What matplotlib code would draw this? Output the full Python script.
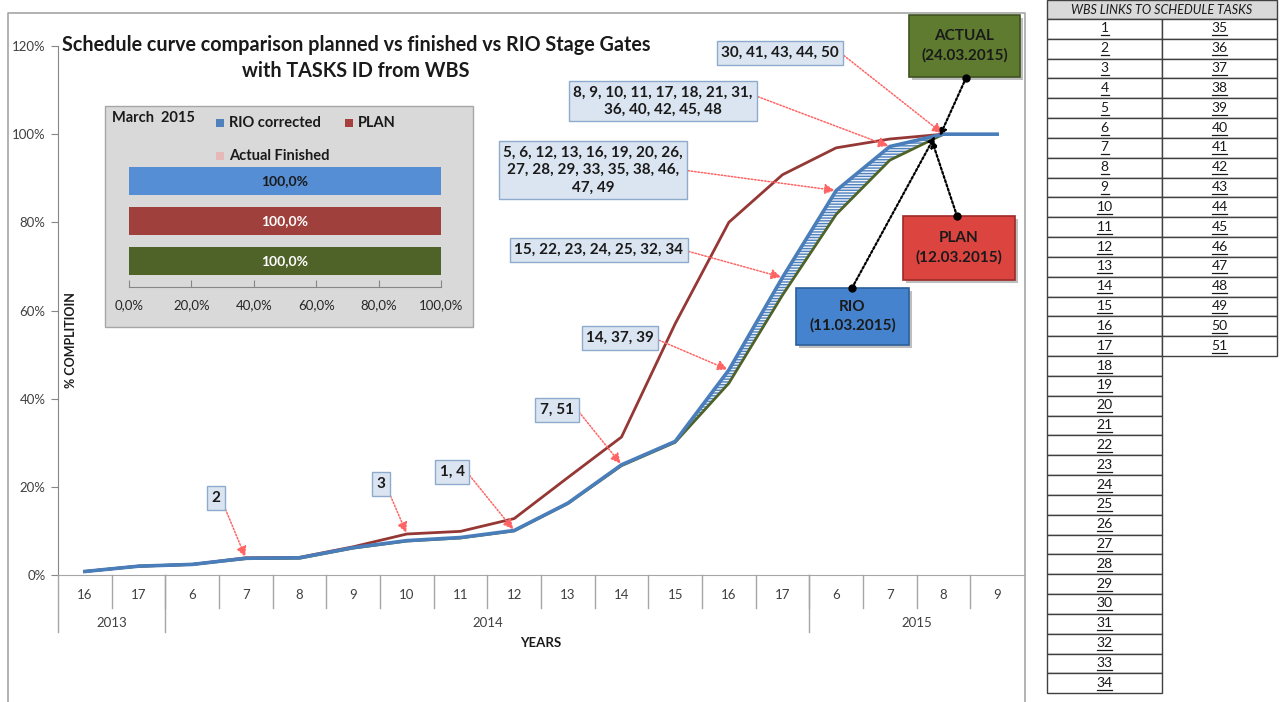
import numpy as np
import matplotlib
matplotlib.use('Agg')
import matplotlib.pyplot as plt
import matplotlib.transforms as mtransforms
from matplotlib.patches import Rectangle

plt.rcParams['font.family'] = ['Lato', 'DejaVu Sans']

# ---- data ----
week_labels = ['16', '17', '6', '7', '8', '9', '10', '11', '12', '13', '14', '15',
               '16', '17', '6', '7', '8', '9']
year_labels = ['2013', '2014', '2015']
year_first = [0, 2, 14]
year_last = [1, 13, 17]

rio_corrected = [0.8, 2.0, 2.4, 3.8, 3.9, 6.2, 7.8, 8.5, 10.1, 16.3, 25.0, 30.3,
                 46.5, 67.5, 87.2, 97.2, 100.0, 100.0]
plan = [0.8, 2.0, 2.4, 3.9, 4.0, 6.4, 9.3, 9.9, 12.8, 22.1, 31.3, 57.0,
        80.0, 90.8, 96.9, 98.9, 100.0]
actual = [0.8, 2.0, 2.4, 3.7, 3.8, 6.1, 7.7, 8.4, 10.0, 16.2, 24.8, 30.1,
          43.5, 63.5, 81.8, 94.1, 100.0]

task_groups = ['2', '3', '1, 4', '7, 51', '14, 37, 39',
               '15, 22, 23, 24, 25, 32, 34',
               '5, 6, 12, 13, 16, 19, 20, 26,\n27, 28, 29, 33, 35, 38, 46,\n47, 49',
               '8, 9, 10, 11, 17, 18, 21, 31,\n36, 40, 42, 45, 48',
               '30, 41, 43, 44, 50']
task_week = [3, 6, 8, 10, 12, 13, 14, 15, 16]
task_series = ['rio', 'plan', 'rio', 'rio', 'rio', 'rio', 'rio', 'rio', 'rio']

milestones = ['ACTUAL\n(24.03.2015)', 'PLAN\n(12.03.2015)', 'RIO\n(11.03.2015)']
milestone_week = [15.93, 15.78, 15.84]

march_names = ['RIO corrected', 'PLAN', 'Actual Finished']
march_values = [100.0, 100.0, 100.0]

wbs_left = list(range(1, 35))
wbs_right = list(range(35, 52))

series = {'rio': rio_corrected, 'plan': plan, 'actual': actual}

# ---- layout (pixels) ----
W, H = 1282, 702


def fx(x):
    return x / W


def fy(y):
    return 1 - y / H


fig = plt.figure(figsize=(W / 100, H / 100), dpi=100)

# overlay in pixel coords for frame, boxes, table
ov = fig.add_axes([0, 0, 1, 1])
ov.set_xlim(0, W)
ov.set_ylim(H, 0)
ov.axis('off')
ov.set_zorder(5)
ov.patch.set_visible(False)

# main chart
ax = fig.add_axes([fx(58), fy(575), 966 / W, 529 / H])
ax.patch.set_visible(False)
x = np.arange(len(week_labels))
ax.plot(x[:len(plan)], plan, color='#953735', lw=2, zorder=3, solid_joinstyle='round')
ax.fill_between(x[11:17], actual[11:17], rio_corrected[11:17], facecolor='#eef3fa',
                edgecolor='#4f81bd', hatch='------', lw=0, zorder=2)
ax.plot(x[:len(actual)], actual, color='#4f6228', lw=2, zorder=4, solid_joinstyle='round')
ax.plot(x, rio_corrected, color='#4a7ebb', lw=2.6, zorder=5, solid_joinstyle='round')
ax.set_xlim(-0.5, len(week_labels) - 0.5)
ax.set_ylim(0, 120)
ax.set_yticks(np.arange(0, 121, 20))
ax.set_yticklabels([f'{v}%' for v in range(0, 121, 20)])
ax.tick_params(axis='y', length=5, color='#868686', labelcolor='#404040', labelsize=9.5, pad=4)
ax.set_xticks([])
for s in ['top', 'right']:
    ax.spines[s].set_visible(False)
ax.spines['left'].set_color('#868686')
ax.spines['bottom'].set_color('#a6a6a6')

# two-level category axis (week / year)
trans = mtransforms.blended_transform_factory(ax.transData, ax.transAxes)
for i, lab in enumerate(week_labels):
    ax.text(i, -20 / 529, lab, transform=trans, ha='center', va='center',
            fontsize=9.5, color='#404040')
for i in range(len(week_labels) - 1):
    ax.plot([i + 0.5, i + 0.5], [0, -33 / 529], transform=trans, color='#a6a6a6',
            lw=1, clip_on=False)
for lab, a, b in zip(year_labels, year_first, year_last):
    ax.text((a + b) / 2, -48 / 529, lab, transform=trans, ha='center', va='center',
            fontsize=9.5, color='#404040')
    ax.plot([a - 0.5, a - 0.5], [0, -57 / 529], transform=trans, color='#a6a6a6',
            lw=1, clip_on=False)

# chart frame
ov.plot([8, 8, 1025, 1025], [702, 13, 13, 702], color='#a6a6a6', lw=1.2)

ov.text(356, 45, 'Schedule curve comparison planned vs finished vs RIO Stage Gates',
        ha='center', va='center', fontsize=14.2, fontweight='bold', color='#1a1a1a')
ov.text(356, 71, 'with TASKS ID from WBS', ha='center', va='center', fontsize=14.2,
        fontweight='bold', color='#1a1a1a')
ov.text(71, 340, '% COMPLITIOIN', rotation=90, ha='center', va='center', fontsize=9,
        fontweight='bold', color='#1a1a1a')
ov.text(541, 643, 'YEARS', ha='center', va='center', fontsize=9.5, fontweight='bold',
        color='#1a1a1a')

# task annotations
task_pos = [(216, 498), (381, 484), (452, 472), (557, 410), (620, 338), (599, 250),
            (593, 170), (663, 101), (780, 53)]
task_rel = [(1, 0.55), (1, 0.5), (1, 0.7), (1, 0.8), (1, 0.5), (1, 0.5), (1, 0.5),
            (1, 0.7), (1, 0.6)]
for lab, pos, wk, ser, rel in zip(task_groups, task_pos, task_week, task_series, task_rel):
    ov.annotate(lab, xy=(wk, series[ser][wk]), xycoords=ax.transData, xytext=pos,
                textcoords='data', ha='center', va='center', fontsize=11,
                fontweight='bold', color='#1a1a1a', linespacing=1.3,
                bbox=dict(boxstyle='square,pad=0.3', fc='#dbe5f1', ec='#8eaacc', lw=1),
                arrowprops=dict(arrowstyle='-|>', color='#ff6464', lw=1.1,
                                linestyle=(0, (1, 1.2)), mutation_scale=15,
                                shrinkA=0, shrinkB=1, relpos=rel))

# milestone boxes
ms_rect = [(909, 15, 111, 62), (903, 216, 112, 64), (796, 288, 113, 57)]
ms_fc = ['#5e7b2f', '#dc4440', '#4683cf']
ms_ec = ['#3e5220', '#9c2a27', '#2d5f9a']
ms_dot = [(966, 78), (957, 216), (852, 288)]
ms_series = ['actual', 'actual', 'rio']
for lab, (rx, ry, rw, rh), fc, ec, dot, wk, ser in zip(milestones, ms_rect, ms_fc, ms_ec,
                                                       ms_dot, milestone_week, ms_series):
    ov.add_patch(Rectangle((rx + 3, ry + 3), rw, rh, fc='#7f7f7f', ec='none', alpha=0.5,
                           zorder=2))
    ov.add_patch(Rectangle((rx, ry), rw, rh, fc=fc, ec=ec, lw=1.2, zorder=3))
    ov.text(rx + rw / 2, ry + rh / 2, lab, ha='center', va='center', fontsize=11,
            fontweight='bold', color='#1a1a1a', linespacing=1.4, zorder=4)
    yv = np.interp(wk, x[:len(series[ser])], series[ser])
    ov.annotate('', xy=(wk, yv), xycoords=ax.transData, xytext=dot, textcoords='data',
                arrowprops=dict(arrowstyle='-|>', color='black', lw=1.6,
                                linestyle=(0, (1, 1)), mutation_scale=10,
                                shrinkA=0, shrinkB=0), zorder=5)
    ov.plot(*dot, 'o', color='black', ms=5, zorder=6)

# inset with March 2015 bars
ov.add_patch(Rectangle((105, 106), 368, 221, fc='#d9d9d9', ec='#a6a6a6', lw=1, zorder=1))
ov.text(112, 118, 'March  2015', ha='left', va='center', fontsize=10.5, fontweight='bold',
        color='#1a1a1a', zorder=2)
leg_fc = ['#4f81bd', '#a5403e', '#e6b9b8']
leg_pos = [(216, 123), (345, 123), (216, 156)]
for name, fc, (lx, ly) in zip(march_names, leg_fc, leg_pos):
    ov.add_patch(Rectangle((lx, ly - 4), 8, 8, fc=fc, ec='none', zorder=2))
    ov.text(lx + 13, ly, name, ha='left', va='center', fontsize=10.5, fontweight='bold',
            color='#1a1a1a', zorder=2)

ins = fig.add_axes([fx(129), fy(287), 312 / W, 127 / H])
ins.set_zorder(6)
ins.patch.set_visible(False)
bar_fc = ['#558ed5', '#a0403c', '#4f6228']
bar_tc = ['#1a1a1a', 'white', 'white']
ypos = np.arange(len(march_values))[::-1]
ins.barh(ypos, march_values, height=0.7, color=bar_fc)
for yy, v, tc in zip(ypos, march_values, bar_tc):
    ins.text(v / 2, yy, f'{v:.1f}%'.replace('.', ','), ha='center', va='center',
             fontsize=10, fontweight='bold', color=tc)
ins.set_xlim(0, 100)
ins.set_ylim(-0.65, 2.525)
ins.set_xticks(np.arange(0, 101, 20))
ins.set_xticklabels([f'{v:.1f}%'.replace('.', ',') for v in range(0, 101, 20)])
ins.tick_params(axis='x', direction='in', length=5, color='#868686', labelcolor='#262626',
                labelsize=9.5, pad=9)
ins.set_yticks([])
for s in ['top', 'right', 'left']:
    ins.spines[s].set_visible(False)
ins.spines['bottom'].set_color('#868686')

# WBS table
tx0, tx1, tx2 = 1047, 1162, 1277
row_h = 19.83
top = 19
ov.add_patch(Rectangle((tx0, 0), tx2 - tx0, top, fc='#d9d9d9', ec='#404040', lw=1, zorder=2))
ov.text((tx0 + tx2) / 2, 9.5, 'WBS LINKS TO SCHEDULE TASKS', ha='center', va='center',
        fontsize=9, style='italic', color='#1a1a1a', zorder=3)


def cell(cx0, cx1, row, num):
    y0 = top + row * row_h
    ov.add_patch(Rectangle((cx0, y0), cx1 - cx0, row_h, fc='white', ec='#404040', lw=1,
                           zorder=2))
    cx = (cx0 + cx1) / 2
    ov.text(cx, y0 + row_h / 2 - 0.5, str(num), ha='center', va='center', fontsize=10,
            color='#1a1a1a', zorder=3)
    uw = 7 * len(str(num)) + 1
    ov.plot([cx - uw / 2, cx + uw / 2], [y0 + row_h / 2 + 6.5, y0 + row_h / 2 + 6.5],
            color='#1a1a1a', lw=0.9, zorder=3)


for r, n in enumerate(wbs_left):
    cell(tx0, tx1, r, n)
for r, n in enumerate(wbs_right):
    cell(tx1, tx2, r, n)

fig.savefig('out.png', dpi=100)
